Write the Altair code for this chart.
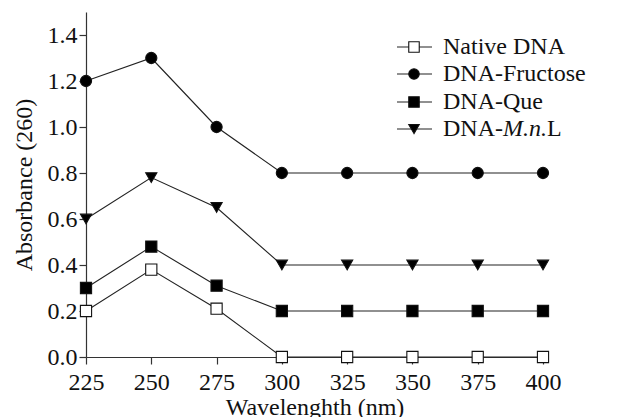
import altair as alt
import pandas as pd

wavelengths = [225, 250, 275, 300, 325, 350, 375, 400]
native_dna = [0.20, 0.38, 0.21, 0.0, 0.0, 0.0, 0.0, 0.0]
dna_fructose = [1.20, 1.30, 1.00, 0.80, 0.80, 0.80, 0.80, 0.80]
dna_que = [0.30, 0.48, 0.31, 0.20, 0.20, 0.20, 0.20, 0.20]
dna_mnl = [0.60, 0.78, 0.65, 0.40, 0.40, 0.40, 0.40, 0.40]

series_names = ["Native DNA", "DNA-Fructose", "DNA-Que", "DNA-M.n.L"]
series_shapes = ["square", "circle", "square", "triangle-down"]
series_fills = ["white", "black", "black", "black"]
x_ticks = [225, 250, 275, 300, 325, 350, 375, 400]
y_ticks = [0.0, 0.2, 0.4, 0.6, 0.8, 1.0, 1.2, 1.4]

rows = []
for name, vals in zip(series_names, [native_dna, dna_fructose, dna_que, dna_mnl]):
    for w, v in zip(wavelengths, vals):
        rows.append({"series": name, "wl": w, "abs": v})
df = pd.DataFrame(rows)

FONT = "Liberation Serif"
FS = 24
W, H = 457, 345

x = alt.X("wl:Q", scale=alt.Scale(domain=[225, 400], nice=False, zero=False),
          axis=alt.Axis(values=x_ticks, title="Wavelenghth (nm)", format="d"))
y = alt.Y("abs:Q", scale=alt.Scale(domain=[0, 1.5], nice=False),
          axis=alt.Axis(values=y_ticks, title="Absorbance (260)", format=".1f"))

lines = alt.Chart(df).mark_line(color="#222", strokeWidth=1.1).encode(
    x=x, y=y, detail="series:N")

points = alt.Chart(df).mark_point(size=125, filled=False, strokeWidth=1.1, opacity=1).encode(
    x=x, y=y,
    shape=alt.Shape("series:N", scale=alt.Scale(domain=series_names, range=series_shapes), legend=None),
    fill=alt.Fill("series:N", scale=alt.Scale(domain=series_names, range=series_fills), legend=None),
    stroke=alt.value("#111"),
)

# manual legend
leg_layers = []
row_y = [35, 62, 90, 117]
lx1, lx2, mx, tx = 311, 346, 328, 357
for i, name in enumerate(series_names):
    yy = row_y[i]
    seg = alt.Chart(df.head(1)).mark_rule(color="#222", strokeWidth=1.1).encode(
        x=alt.value(lx1), x2=alt.value(lx2), y=alt.value(yy))
    mk = alt.Chart(df.head(1)).mark_point(
        shape=series_shapes[i], size=110, filled=True,
        fill=series_fills[i], stroke="#111", strokeWidth=1.1, opacity=1
    ).encode(x=alt.value(mx), y=alt.value(yy))
    leg_layers += [seg, mk]
    if name == "DNA-M.n.L":
        parts = [("DNA-", "normal", 0.0), ("M.n.", "italic", 2.499 * FS), ("L", "normal", 4.332 * FS)]
        for txt, style, dx in parts:
            leg_layers.append(alt.Chart(df.head(1)).mark_text(
                text=txt, font=FONT, fontSize=FS, fontStyle=style, align="left",
                baseline="middle", color="#111"
            ).encode(x=alt.value(tx + dx), y=alt.value(yy)))
    else:
        leg_layers.append(alt.Chart(df.head(1)).mark_text(
            text=name, font=FONT, fontSize=FS, align="left", baseline="middle", color="#111"
        ).encode(x=alt.value(tx), y=alt.value(yy)))

chart = alt.layer(lines, points, *leg_layers).properties(
    width=W, height=H,
    autosize=alt.AutoSizeParams(type="none"),
    padding={"left": 78, "top": 4, "right": 60, "bottom": 60},
    background="white",
).configure_view(stroke=None).configure_axis(
    grid=False, domainColor="#333", tickColor="#333", domainWidth=1.2, tickWidth=1.2,
    labelFont=FONT, labelFontSize=FS, labelColor="#111",
    titleFont=FONT, titleFontSize=FS, titleColor="#111", titleFontWeight="normal",
    tickSize=7, labelPadding=2,
).configure_axisX(titlePadding=1, labelPadding=6, labelFlush=False).configure_axisY(titlePadding=11)

chart.save("out.html", embed_options={"renderer": "svg", "actions": False})
